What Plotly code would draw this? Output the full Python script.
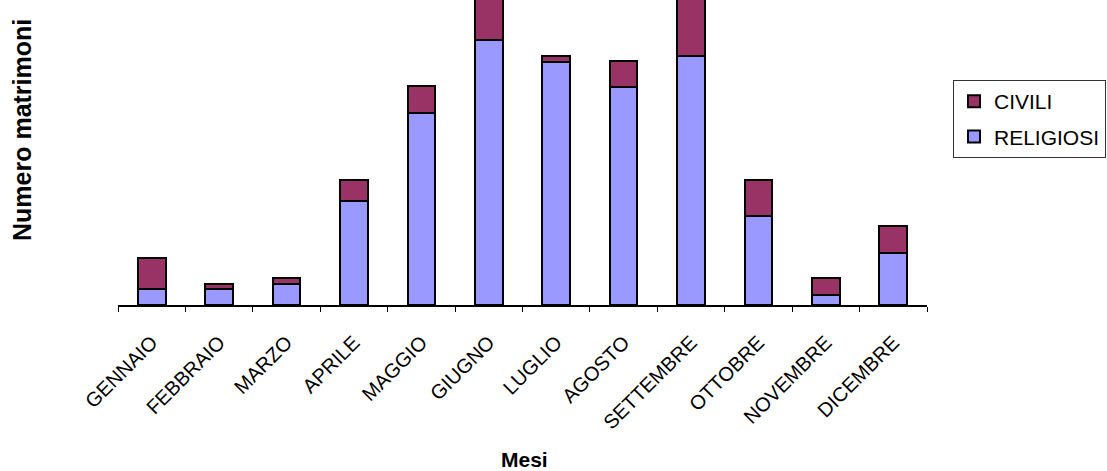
import plotly.graph_objects as go

months = ["GENNAIO", "FEBBRAIO", "MARZO", "APRILE", "MAGGIO", "GIUGNO",
          "LUGLIO", "AGOSTO", "SETTEMBRE", "OTTOBRE", "NOVEMBRE", "DICEMBRE"]
religiosi = [16, 16, 21, 104, 192, 265, 243, 218, 249, 89, 10, 52]
civili = [31, 5, 6, 21, 27, 60, 6, 26, 70, 36, 17, 27]

W, H = 1107, 471
L, R, T, B = 118, 180, 0, 166
pw, ph = W - L - R, H - T - B

def px(x):
    return (x - L) / pw

def py(y):
    return (H - B - y) / ph

font = "Arial, 'Liberation Sans', sans-serif"

fig = go.Figure()
fig.add_trace(go.Bar(x=months, y=religiosi, name="RELIGIOSI", legendgroup="r", legendrank=2,
                     marker=dict(color="#9999FF", line=dict(color="black", width=2))))
fig.add_trace(go.Bar(x=months, y=civili, name="CIVILI", legendgroup="c", legendrank=1,
                     marker=dict(color="#993366", line=dict(color="black", width=2))))

fig.update_layout(
    width=W, height=H,
    margin=dict(l=L, r=R, t=T, b=B, autoexpand=False),
    barmode="stack", bargap=0.59,
    paper_bgcolor="white", plot_bgcolor="white",
    font=dict(family=font, color="black"),
    showlegend=True,
    legend=dict(x=px(953), xanchor="left", y=py(80), yanchor="top",
                traceorder="grouped", tracegroupgap=5,
                bordercolor="#333333", borderwidth=1,
                font=dict(size=21, family=font), itemwidth=30),
    xaxis=dict(showline=True, linecolor="black", linewidth=2,
               ticks="outside", tickson="boundaries", ticklen=5, tickcolor="black",
               tickwidth=1, tickangle=-45, tickfont=dict(size=20, family=font),
               ticklabelstandoff=16,
               showgrid=False, range=[-0.5, 11.5], automargin=False),
    yaxis=dict(range=[0, 305], showticklabels=False, showgrid=False,
               zeroline=False, showline=False, ticks="", automargin=False),
    annotations=[
        dict(text="<b>Mesi</b>", x=px(524), y=py(460), xref="paper", yref="paper",
             showarrow=False, xanchor="center", yanchor="middle",
             font=dict(size=21, family=font)),
        dict(text="<b>Numero matrimoni</b>", x=px(22), y=py(130), xref="paper", yref="paper",
             showarrow=False, xanchor="center", yanchor="middle", textangle=-90,
             font=dict(size=25, family=font)),
    ],
)

fig.write_html("out.html", config={"displayModeBar": False},
               post_script="document.body.style.margin='0';document.body.style.overflow='hidden';")
